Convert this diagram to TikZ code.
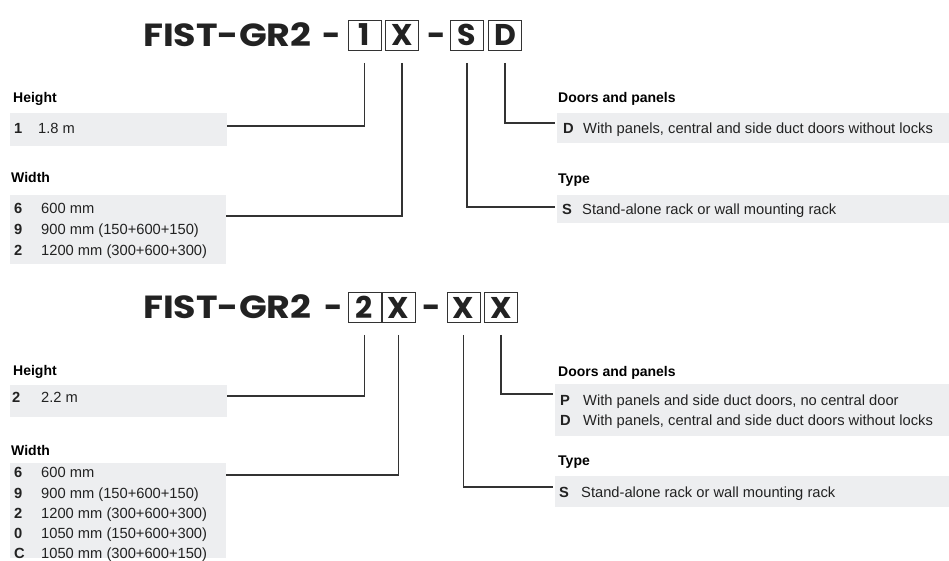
\documentclass[tikz,border=0pt]{standalone}
\usepackage{fontspec}
\setmainfont{Liberation Sans}
\newfontfamily\titlefont{Poppins}
\definecolor{panelgray}{HTML}{EDEEF0}
\definecolor{ink}{HTML}{222222}
\definecolor{linegray}{HTML}{333333}
\tikzset{
  titletext/.style={inner sep=0pt, text height=22.5pt, text depth=0pt, font=\titlefont\bfseries\fontsize{32}{36}\selectfont, text=ink},
  codebox/.style={draw=linegray, line width=0.9pt, minimum width=33pt, minimum height=30pt, inner sep=0pt, text height=21pt, text depth=0pt, font=\titlefont\bfseries\fontsize{30}{34}\selectfont, text=ink},
  panel/.style={fill=panelgray, draw=none, inner sep=0pt, anchor=north west},
  label/.style={anchor=west, inner sep=0pt, text height=10pt, text depth=0pt, font=\bfseries\fontsize{14}{16}\selectfont, text=black},
  num/.style={anchor=west, inner sep=0pt, text height=10.5pt, text depth=0pt, font=\bfseries\fontsize{14.7}{17}\selectfont, text=ink},
  row/.style={anchor=west, inner sep=0pt, text height=10.5pt, text depth=0pt, font=\fontsize{14.7}{17}\selectfont, text=ink},
  conn/.style={draw=linegray, line width=1.2pt}
}
\begin{document}
\begin{tikzpicture}[x=1pt,y=-1pt]
\useasboundingbox (0,0) rectangle (949,561);
% ---------- top code ----------
\node[titletext, anchor=west] (t1) at (143,35.5) {\scalebox{1.14}[1]{FIST-GR2}};
\node[titletext] (d11) at (332,35.5) {-};
\node[codebox] (b11) at (364.5,35.5) {1};
\node[codebox] (b12) at (402,35.5) {X};
\node[titletext] (d12) at (437,35.5) {-};
\node[codebox] (b13) at (467,35.5) {S};
\node[codebox] (b14) at (505,35.5) {D};
% panels
\node[panel, minimum width=217pt, minimum height=33pt] (h1) at (10,113) {};
\node[panel, minimum width=216pt, minimum height=69pt] (w1) at (10,195) {};
\node[panel, minimum width=392pt, minimum height=30pt] (dp1) at (557,113) {};
\node[panel, minimum width=392pt, minimum height=28pt] (tp1) at (557,195) {};
% labels
\node[label] (lh1) at (13,98) {Height};
\node[label] (lw1) at (11,178) {Width};
\node[label] (ld1) at (558,98) {Doors and panels};
\node[label] (lt1) at (558,179) {Type};
% rows
\node[num] (nh1) at (14,128) {1};
\node[row] (rh1) at (38,128) {1.8 m};
\node[num] (nw11) at (14,208) {6};
\node[row] (rw11) at (41,208) {600 mm};
\node[num] (nw12) at (14,229) {9};
\node[row] (rw12) at (41,229) {900 mm (150+600+150)};
\node[num] (nw13) at (14,250) {2};
\node[row] (rw13) at (41,250) {1200 mm (300+600+300)};
\node[num] (nd1) at (563,128) {D};
\node[row] (rd1) at (583,128) {With panels, central and side duct doors without locks};
\node[num] (nt1) at (562,209) {S};
\node[row] (rt1) at (582,209) {Stand-alone rack or wall mounting rack};
% connectors
\draw[conn] ([yshift=-12pt]b11.south) |- (h1.east |- 0,126);
\draw[conn] ([yshift=-12pt]b12.south) |- (w1.east |- 0,216);
\draw[conn, shorten >=2pt] ([yshift=-12pt]b13.south) |- (tp1.west |- 0,207);
\draw[conn, shorten >=2pt] ([yshift=-12pt]b14.south) |- (dp1.west |- 0,123);
% ---------- bottom code ----------
\node[titletext, anchor=west] (t2) at (143,307.5) {\scalebox{1.14}[1]{FIST-GR2}};
\node[titletext] (d21) at (334,307.5) {-};
\node[codebox] (b21) at (364.5,307.5) {2};
\node[codebox] (b22) at (398.5,307.5) {X};
\node[titletext] (d22) at (432,307.5) {-};
\node[codebox] (b23) at (463.5,307.5) {X};
\node[codebox] (b24) at (501,307.5) {X};
% panels
\node[panel, minimum width=217pt, minimum height=32pt] (h2) at (10,385) {};
\node[panel, minimum width=216pt, minimum height=95pt] (w2) at (10,463) {};
\node[panel, minimum width=394pt, minimum height=52pt] (dp2) at (555,384) {};
\node[panel, minimum width=394pt, minimum height=31pt] (tp2) at (555,476) {};
% labels
\node[label] (lh2) at (13,370) {Height};
\node[label] (lw2) at (11,450) {Width};
\node[label] (ld2) at (558,371) {Doors and panels};
\node[label] (lt2) at (558,460) {Type};
% rows
\node[num] (nh2) at (12,397) {2};
\node[row] (rh2) at (41,397) {2.2 m};
\node[num] (nw21) at (14,472) {6};
\node[row] (rw21) at (41,472) {600 mm};
\node[num] (nw22) at (14,493) {9};
\node[row] (rw22) at (41,493) {900 mm (150+600+150)};
\node[num] (nw23) at (14,513) {2};
\node[row] (rw23) at (41,513) {1200 mm (300+600+300)};
\node[num] (nw24) at (14,533) {0};
\node[row] (rw24) at (41,533) {1050 mm (150+600+300)};
\node[num] (nw25) at (14,553) {C};
\node[row] (rw25) at (41,553) {1050 mm (300+600+150)};
\node[num] (nd21) at (560,400) {P};
\node[row] (rd21) at (583,400) {With panels and side duct doors, no central door};
\node[num] (nd22) at (560,420) {D};
\node[row] (rd22) at (583,420) {With panels, central and side duct doors without locks};
\node[num] (nt2) at (559,492) {S};
\node[row] (rt2) at (581,492) {Stand-alone rack or wall mounting rack};
% connectors
\draw[conn] ([yshift=-12pt]b21.south) |- (h2.east |- 0,396);
\draw[conn] ([yshift=-12pt]b22.south) |- (w2.east |- 0,475);
\draw[conn, shorten >=2pt] ([yshift=-12pt]b23.south) |- (tp2.west |- 0,487);
\draw[conn, shorten >=2pt] ([yshift=-12pt]b24.south) |- (dp2.west |- 0,394);
\end{tikzpicture}
\end{document}
